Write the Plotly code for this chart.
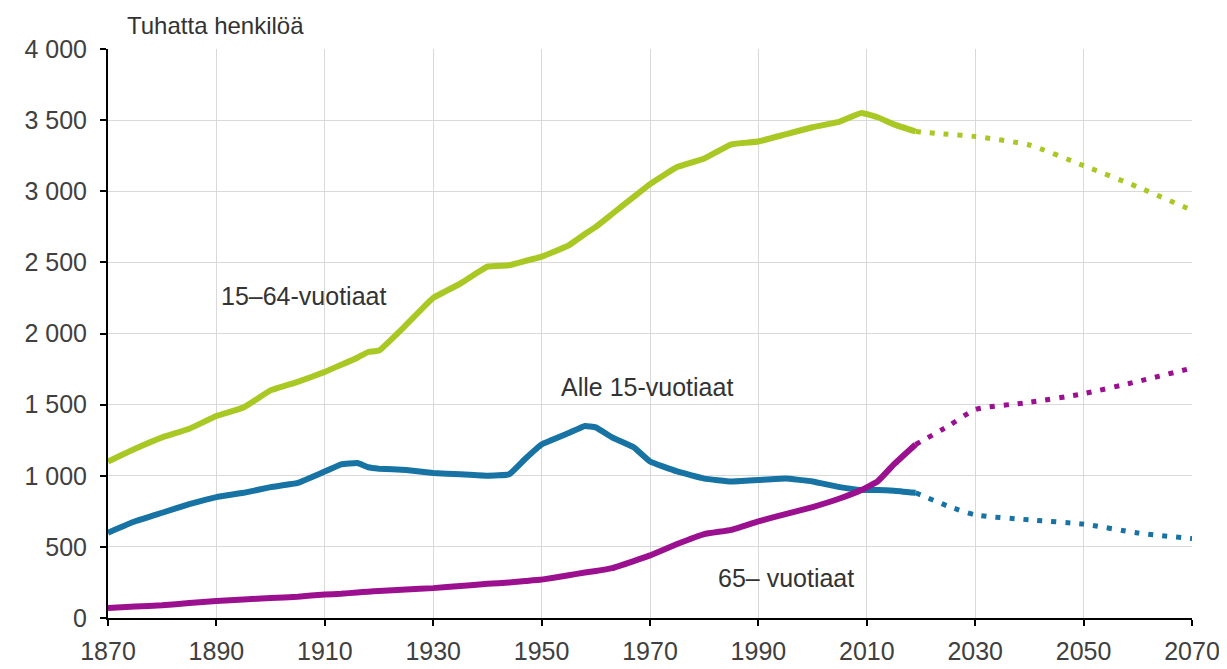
import plotly.graph_objects as go

# Historical data (thousands of persons)
hist_years = [1870, 1875, 1880, 1885, 1890, 1895, 1900, 1905, 1910, 1913, 1916, 1918, 1920,
              1925, 1930, 1935, 1940, 1944, 1947, 1950, 1955, 1958, 1960, 1963, 1967, 1970,
              1975, 1980, 1985, 1990, 1995, 2000, 2005, 2009, 2012, 2015, 2019]
age_15_64 = [1100, 1190, 1270, 1330, 1420, 1480, 1600, 1660, 1730, 1780, 1830, 1870, 1880,
             2060, 2250, 2350, 2470, 2480, 2510, 2540, 2620, 2700, 2750, 2840, 2960, 3050,
             3170, 3230, 3330, 3350, 3400, 3450, 3490, 3550, 3520, 3470, 3420]
age_0_14 = [600, 680, 740, 800, 850, 880, 920, 950, 1030, 1080, 1090, 1060, 1050,
            1040, 1020, 1010, 1000, 1010, 1120, 1220, 1300, 1350, 1340, 1270, 1200, 1100,
            1030, 980, 960, 970, 980, 960, 920, 900, 900, 895, 880]
age_65 = [70, 80, 90, 105, 120, 130, 140, 150, 165, 170, 180, 185, 190,
          200, 210, 225, 240, 250, 260, 270, 300, 320, 330, 350, 400, 440,
          520, 590, 620, 680, 730, 780, 840, 900, 960, 1080, 1220]

# Projection
proj_years = [2019, 2025, 2030, 2040, 2050, 2060, 2070]
proj_15_64 = [3420, 3400, 3385, 3325, 3180, 3030, 2866]
proj_0_14 = [880, 786, 725, 690, 660, 598, 558]
proj_65 = [1220, 1348, 1465, 1516, 1577, 1663, 1757]

green = "#a9c823"
blue = "#1673a3"
magenta = "#9b108f"

x_ticks = [1870, 1890, 1910, 1930, 1950, 1970, 1990, 2010, 2030, 2050, 2070]
y_ticks = [0, 500, 1000, 1500, 2000, 2500, 3000, 3500, 4000]
y_ticktext = ["0", "500", "1 000", "1 500", "2 000", "2 500", "3 000", "3 500", "4 000"]

fig = go.Figure()
for ys, ps, col in [(age_15_64, proj_15_64, green), (age_0_14, proj_0_14, blue), (age_65, proj_65, magenta)]:
    fig.add_trace(go.Scatter(x=hist_years, y=ys, mode="lines",
                             line=dict(color=col, width=6, shape="spline", smoothing=0.3),
                             showlegend=False, hoverinfo="skip"))
    fig.add_trace(go.Scatter(x=proj_years, y=ps, mode="lines",
                             line=dict(color=col, width=5, dash="5px,9px", shape="spline", smoothing=0.6),
                             showlegend=False, hoverinfo="skip"))

font = "Liberation Sans, Arial, sans-serif"
txt = "#333333"
fig.add_annotation(x=1906, y=2264, text="15–64-vuotiaat", showarrow=False,
                   font=dict(family=font, size=25, color=txt))
fig.add_annotation(x=1969.5, y=1624, text="Alle 15-vuotiaat", showarrow=False,
                   font=dict(family=font, size=25, color=txt))
fig.add_annotation(x=1995, y=281, text="65– vuotiaat", showarrow=False,
                   font=dict(family=font, size=25, color=txt))
fig.add_annotation(xref="paper", yref="paper", x=0.016, y=1.0, yshift=24, xanchor="left",
                   yanchor="middle", text="Tuhatta henkilöä", showarrow=False,
                   font=dict(family=font, size=24, color=txt))

fig.update_layout(
    width=1227, height=669,
    margin=dict(l=100, r=43, t=41, b=59),
    plot_bgcolor="white", paper_bgcolor="white",
    font=dict(family=font, size=25, color="#404040"),
    xaxis=dict(range=[1870, 2070], tickvals=x_ticks, showgrid=True, gridcolor="#d9d9d9",
               gridwidth=1, showline=True, linecolor="black", linewidth=2,
               ticks="outside", ticklen=6, tickwidth=2, tickcolor="black", zeroline=False,
               ticklabelstandoff=4),
    yaxis=dict(range=[0, 4000], tickvals=y_ticks, ticktext=y_ticktext, showgrid=True,
               gridcolor="#d9d9d9", gridwidth=1, showline=True, linecolor="black", linewidth=2,
               ticks="outside", ticklen=6, tickwidth=2, tickcolor="black", zeroline=False,
               ticklabelstandoff=8),
)

fig.write_html("out.html")
